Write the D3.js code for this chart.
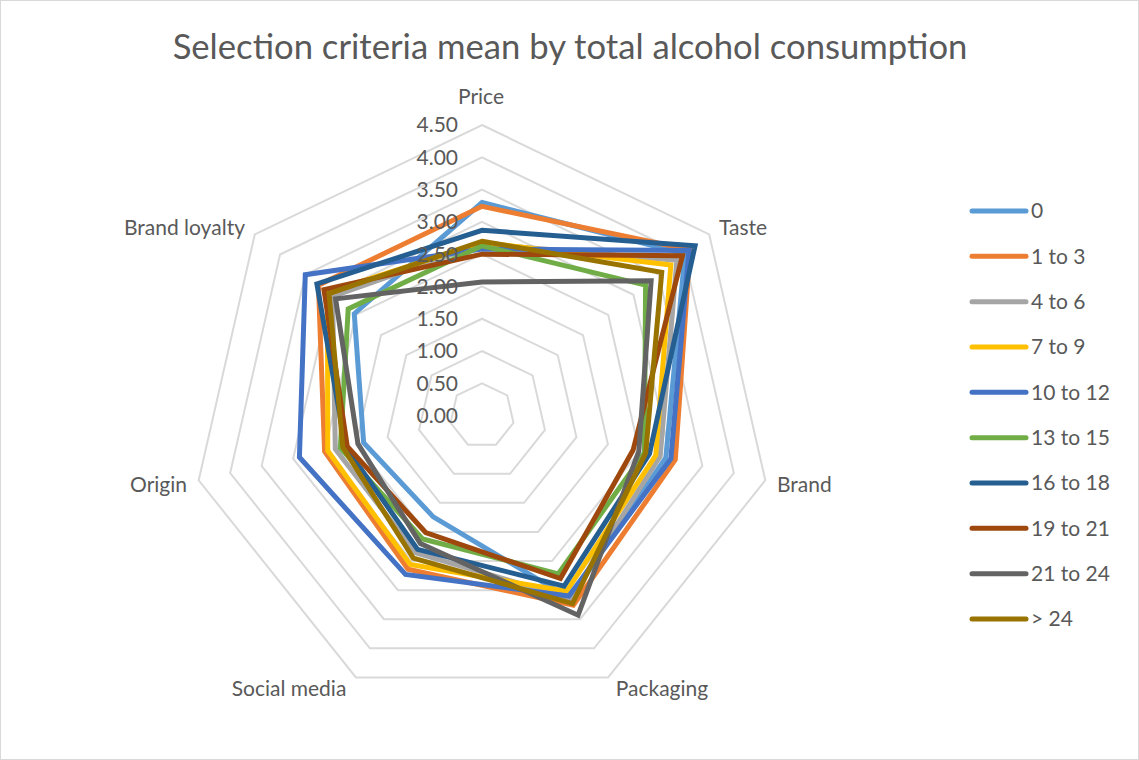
<!DOCTYPE html>
<html>
<head>
<meta charset="utf-8">
<script src="https://cdn.jsdelivr.net/npm/d3@7/dist/d3.min.js"></script>
<style>
  html, body { margin: 0; padding: 0; background: #fff; }
  svg { display: block; }
  text { font-family: Lato, "Open Sans", sans-serif; fill: #595959; }
</style>
</head>
<body>
<svg id="chart" width="1139" height="760"></svg>
<script>
// Selection criteria (radar axes), clockwise from the top
const criteria = ["Price", "Taste", "Brand", "Packaging", "Social media", "Origin", "Brand loyalty"];

// Consumption groups (legend order)
const groups = ["0", "1 to 3", "4 to 6", "7 to 9", "10 to 12", "13 to 15", "16 to 18", "19 to 21", "21 to 24", "> 24"];

// Mean score per criterion for each group
const g0     = [3.30, 4.02, 2.92, 3.14, 1.74, 1.88, 2.53];
const g1to3  = [3.24, 4.12, 3.07, 3.26, 2.64, 2.50, 3.24];
const g4to6  = [2.66, 3.86, 2.83, 3.14, 2.36, 2.33, 2.96];
const g7to9  = [2.68, 3.74, 2.76, 3.02, 2.56, 2.45, 3.06];
const g10to12 = [2.58, 4.10, 3.00, 3.10, 2.73, 2.90, 3.50];
const g13to15 = [2.63, 3.24, 2.58, 2.72, 2.12, 2.25, 2.65];
const g16to18 = [2.87, 4.22, 2.66, 2.93, 2.30, 2.17, 3.27];
const g19to21 = [2.50, 3.97, 2.40, 2.80, 2.01, 2.14, 3.13];
const g21to24 = [2.07, 3.35, 2.49, 3.43, 2.20, 1.97, 2.90];
const gOver24 = [2.70, 3.56, 2.60, 3.23, 2.45, 2.21, 3.03];

const seriesValues = [g0, g1to3, g4to6, g7to9, g10to12, g13to15, g16to18, g19to21, g21to24, gOver24];
const seriesColors = ["#5B9BD5", "#ED7D31", "#A5A5A5", "#FFC000", "#4472C4", "#70AD47", "#255E91", "#9E480E", "#636363", "#997300"];

// Radial axis ticks
const tickValues = [0, 0.5, 1, 1.5, 2, 2.5, 3, 3.5, 4, 4.5];
const tickLabels = ["0.00", "0.50", "1.00", "1.50", "2.00", "2.50", "3.00", "3.50", "4.00", "4.50"];

const title = "Selection criteria mean by total alcohol consumption";

const svg = d3.select("#chart");
const W = 1139, H = 760;
const cx = 482, cy = 415.6, R = 290.6;
const labelSize = 21;

// Chart area border
svg.append("rect").attr("x", 0.5).attr("y", 0.5).attr("width", W - 1).attr("height", H - 1)
  .attr("fill", "#fff").attr("stroke", "#d9d9d9").attr("stroke-width", 1);

const r = d3.scaleLinear().domain([0, 4.5]).range([0, R]);
const angle = d3.scalePoint().domain(criteria).range([0, 2 * Math.PI * (criteria.length - 1) / criteria.length]);

// Gridline heptagons
const grid = svg.append("g").attr("transform", `translate(${cx},${cy})`);
tickValues.filter(v => v > 0).forEach(v => {
  grid.append("path")
    .attr("d", d3.lineRadial().angle(d => angle(d)).radius(r(v)).curve(d3.curveLinearClosed)(criteria))
    .attr("fill", "none").attr("stroke", "#d9d9d9").attr("stroke-width", 2);
});

// Series polygons
const plot = svg.append("g").attr("transform", `translate(${cx},${cy})`);
const radar = d3.lineRadial()
  .angle((d, i) => angle(criteria[i]))
  .radius(d => r(d))
  .curve(d3.curveLinearClosed);
seriesValues.forEach((vals, i) => {
  plot.append("path")
    .attr("d", radar(vals))
    .attr("fill", "none")
    .attr("stroke", seriesColors[i])
    .attr("stroke-width", 5)
    .attr("stroke-linejoin", "miter");
});

// Radial tick labels along the Price axis
svg.append("g").selectAll("text").data(tickValues).join("text")
  .attr("x", cx - 24)
  .attr("y", d => cy - r(d))
  .attr("dy", "0.35em")
  .attr("text-anchor", "end")
  .attr("font-size", labelSize)
  .text((d, i) => tickLabels[i]);

// Criterion labels
const labelPos = {
  "Price":        { x: 481, y: 97,  anchor: "middle" },
  "Taste":        { x: 719, y: 228, anchor: "start" },
  "Brand":        { x: 777, y: 485, anchor: "start" },
  "Packaging":    { x: 662, y: 689, anchor: "middle" },
  "Social media": { x: 289, y: 689, anchor: "middle" },
  "Origin":       { x: 187, y: 485, anchor: "end" },
  "Brand loyalty":{ x: 245, y: 228, anchor: "end" }
};
svg.append("g").selectAll("text").data(criteria).join("text")
  .attr("x", d => labelPos[d].x)
  .attr("y", d => labelPos[d].y)
  .attr("dy", "0.35em")
  .attr("text-anchor", d => labelPos[d].anchor)
  .attr("font-size", labelSize)
  .text(d => d);

// Title, sized to span the top of the chart
const t = svg.append("text")
  .attr("x", 570).attr("y", 47).attr("dy", "0.35em")
  .attr("text-anchor", "middle")
  .attr("font-size", 31)
  .text(title);
const tw = t.node().getComputedTextLength();
t.attr("font-size", 31 * 795 / tw);

// Legend
const legend = svg.append("g");
const ly = d3.scalePoint().domain(groups).range([211, 619]);
groups.forEach((g, i) => {
  legend.append("line")
    .attr("x1", 972).attr("x2", 1026)
    .attr("y1", ly(g)).attr("y2", ly(g))
    .attr("stroke", seriesColors[i]).attr("stroke-width", 5).attr("stroke-linecap", "round");
  legend.append("text")
    .attr("x", 1031).attr("y", ly(g)).attr("dy", "0.35em")
    .attr("font-size", labelSize)
    .text(g);
});
</script>
</body>
</html>
